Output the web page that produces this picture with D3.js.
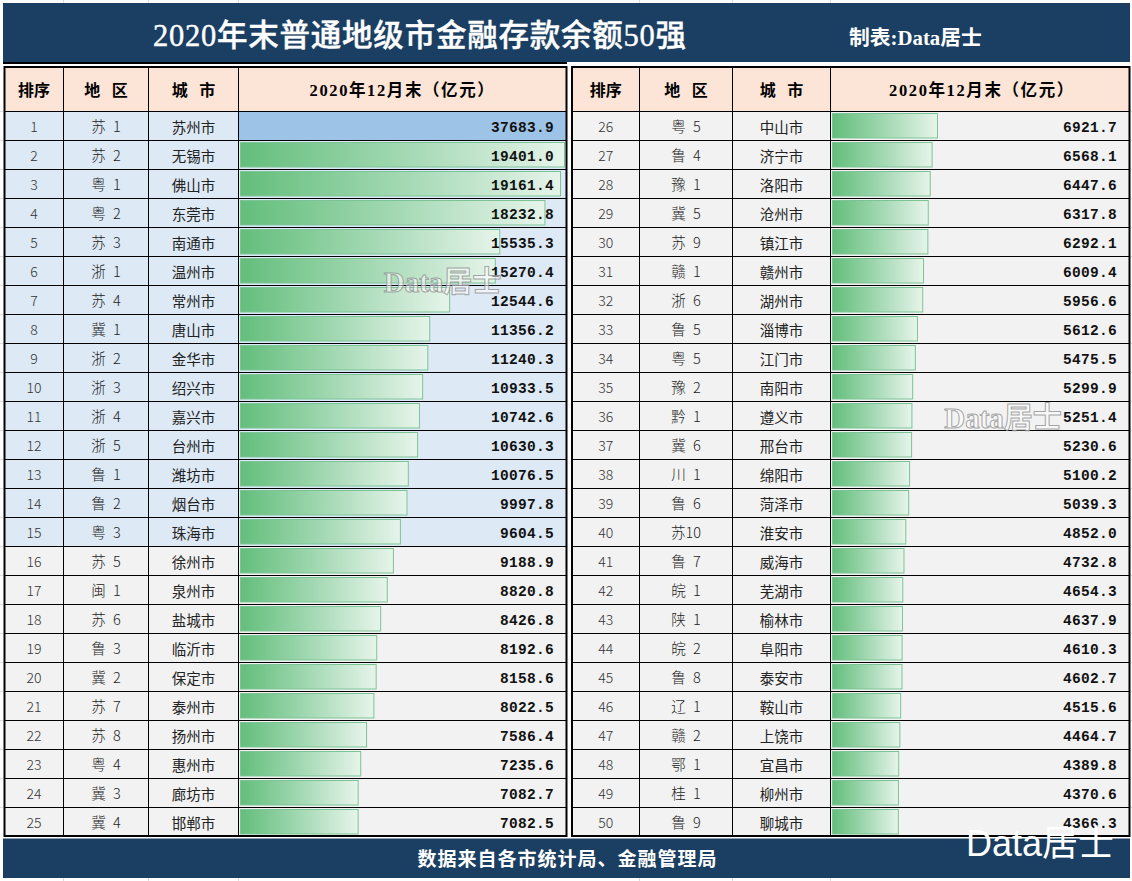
<!DOCTYPE html>
<html><head><meta charset="utf-8">
<script src="https://cdn.jsdelivr.net/npm/d3@7"></script>
<style>
html,body{margin:0;padding:0;background:#fff;overflow:hidden}
svg{display:block}
.serif{font-family:"Liberation Serif","Noto Sans CJK SC",serif}
.cjk{font-family:"Noto Sans CJK SC",sans-serif}
.num{font-family:"Liberation Mono","Noto Sans CJK SC",monospace;font-weight:700}
</style></head><body>
<script>
const titleText = "2020年末普通地级市金融存款余额50强";
const creditText = "制表:Data居士";
const footerText = "数据来自各市统计局、金融管理局";
const watermarkText = "Data居士";
const headers = ["排序","地 区","城 市","2020年12月末（亿元）"];
const ranks = d3.range(1,51);
const regions = ["苏 1","苏 2","粤 1","粤 2","苏 3","浙 1","苏 4","冀 1","浙 2","浙 3","浙 4","浙 5","鲁 1","鲁 2","粤 3","苏 5","闽 1","苏 6","鲁 3","冀 2","苏 7","苏 8","粤 4","冀 3","冀 4",
"粤 5","鲁 4","豫 1","冀 5","苏 9","赣 1","浙 6","鲁 5","粤 5","豫 2","黔 1","冀 6","川 1","鲁 6","苏10","鲁 7","皖 1","陕 1","皖 2","鲁 8","辽 1","赣 2","鄂 1","桂 1","鲁 9"];
const cities = ["苏州市","无锡市","佛山市","东莞市","南通市","温州市","常州市","唐山市","金华市","绍兴市","嘉兴市","台州市","潍坊市","烟台市","珠海市","徐州市","泉州市","盐城市","临沂市","保定市","泰州市","扬州市","惠州市","廊坊市","邯郸市",
"中山市","济宁市","洛阳市","沧州市","镇江市","赣州市","湖州市","淄博市","江门市","南阳市","遵义市","邢台市","绵阳市","菏泽市","淮安市","威海市","芜湖市","榆林市","阜阳市","泰安市","鞍山市","上饶市","宜昌市","柳州市","聊城市"];
const values = [37683.9,19401.0,19161.4,18232.8,15535.3,15270.4,12544.6,11356.2,11240.3,10933.5,10742.6,10630.3,10076.5,9997.8,9604.5,9188.9,8820.8,8426.8,8192.6,8158.6,8022.5,7586.4,7235.6,7082.7,7082.5,
6921.7,6568.1,6447.6,6317.8,6292.1,6009.4,5956.6,5612.6,5475.5,5299.9,5251.4,5230.6,5100.2,5039.3,4852.0,4732.8,4654.3,4637.9,4610.3,4602.7,4515.6,4464.7,4389.8,4370.6,4366.3];

const W=1132,H=881,NAVY="#1b3f62",HEAD="#fce4d6",BLUE="#dde9f5",GREY="#f2f2f2",TOP="#9dc3e6";
const svg=d3.select("body").append("svg").attr("width",W).attr("height",H);
const defs=svg.append("defs");
const grad=defs.append("linearGradient").attr("id","barGrad");
grad.append("stop").attr("offset","0%").attr("stop-color","#63be7b");
grad.append("stop").attr("offset","50%").attr("stop-color","#a2d8b2");
grad.append("stop").attr("offset","100%").attr("stop-color","#e6f4ea");

// faint worksheet gridlines
const grid=svg.append("g").attr("stroke","#dcdcdc").attr("stroke-width",1);
[63.5,148.5,238.5,639.5,732.5,830.5].forEach(x=>{
  grid.append("line").attr("x1",x).attr("x2",x).attr("y1",0).attr("y2",3);
  grid.append("line").attr("x1",x).attr("x2",x).attr("y1",878).attr("y2",881);
});
d3.range(25).forEach(i=>{
  const y=111+29*i+.5;
  grid.append("line").attr("x1",0).attr("x2",3).attr("y1",y).attr("y2",y);
  grid.append("line").attr("x1",1130).attr("x2",1132).attr("y1",y).attr("y2",y);
});

// banners
svg.append("rect").attr("x",3).attr("y",3).attr("width",1127).attr("height",59).attr("fill",NAVY);
svg.append("rect").attr("x",3).attr("y",838.5).attr("width",1127).attr("height",39.5).attr("fill",NAVY);
svg.append("rect").attr("x",3).attr("y",62).attr("width",564).attr("height",2).attr("fill","#000");
svg.append("text").attr("class","serif").attr("x",153).attr("y",46).attr("font-size",30.5).attr("font-weight",500)
  .attr("fill","#fff").attr("stroke","#fff").attr("stroke-width",.4)
  .attr("textLength",533).attr("lengthAdjust","spacing").text(titleText);
svg.append("text").attr("class","serif").attr("x",849).attr("y",45).attr("font-size",20.8).attr("font-weight",700)
  .attr("fill","#fff").text(creditText);
svg.append("text").attr("class","serif").attr("x",567.5).attr("y",866).attr("text-anchor","middle").attr("font-size",19)
  .attr("font-weight",700).attr("letter-spacing",1).attr("fill","#fff").text(footerText);

const rowY=d3.scaleBand().domain(d3.range(25)).range([111,836]);

function panel(cols,barX,barDomain,start,rowFill,headShift){
  const [x0,x1,x2,x3,x4]=cols;
  const g=svg.append("g");
  const idx=d3.range(25).map(i=>i+start);
  const x=d3.scaleLinear().domain(barDomain).range(barX).clamp(true);

  g.append("rect").attr("x",x0).attr("y",67).attr("width",x4-x0).attr("height",44).attr("fill",HEAD);
  g.selectAll(".row").data(idx).join("rect").attr("class","row")
    .attr("x",x0).attr("width",x4-x0).attr("y",d=>rowY(d-start)).attr("height",rowY.bandwidth())
    .attr("fill",rowFill);

  // data bars
  g.selectAll(".bar").data(idx).join("rect").attr("class","bar")
    .each(function(d){
      const s=d3.select(this);
      if(d===0){
        s.attr("x",x3).attr("y",rowY(0)).attr("width",x4-x3).attr("height",rowY.bandwidth()).attr("fill",TOP);
      }else{
        s.attr("x",barX[0]+.5).attr("y",rowY(d-start)+2.5).attr("width",x(values[d])-barX[0]-1)
         .attr("height",rowY.bandwidth()-4.5).attr("fill","url(#barGrad)")
         .attr("stroke","#7cc496").attr("stroke-width",1);
      }
    });

  // rules
  const rules=g.append("g").attr("stroke","#000");
  d3.range(1,25).forEach(i=>rules.append("line").attr("x1",x0).attr("x2",x4)
    .attr("y1",rowY(i)+.5).attr("y2",rowY(i)+.5).attr("stroke-width",1));
  rules.append("line").attr("x1",x0).attr("x2",x4).attr("y1",111.5).attr("y2",111.5).attr("stroke-width",1);
  [x1,x2,x3].forEach(v=>rules.append("line").attr("x1",v).attr("x2",v).attr("y1",67).attr("y2",836).attr("stroke-width",1));
  g.append("rect").attr("x",x0).attr("y",67).attr("width",x4-x0).attr("height",769)
    .attr("fill","none").attr("stroke","#000").attr("stroke-width",2);

  // headers
  const centers=[(x0+x1)/2,(x1+x2)/2,(x2+x3)/2,(x3+x4)/2+headShift];
  headers.forEach((h,i)=>{
    g.append("text").attr("class",i==3?"serif":"cjk").attr("x",centers[i]).attr("y",95.5)
      .attr("text-anchor","middle").attr("font-size",i==3?16.5:16).attr("font-weight",700)
      .attr("letter-spacing",i==3?1.6:0).attr("word-spacing",i==3?0:8)
      .attr("fill","#000").text(h);
  });

  // cells
  const tY=d=>rowY(d-start)+21;
  g.selectAll(".rank").data(idx).join("text").attr("class","cjk")
    .attr("x",centers[0]).attr("y",tY).attr("text-anchor","middle").attr("font-size",14)
    .attr("font-weight",300).attr("fill","#333").text(d=>ranks[d]);
  g.selectAll(".region").data(idx).join("text").attr("class","cjk")
    .attr("x",centers[1]).attr("y",tY).attr("text-anchor","middle").attr("font-size",14.5)
    .attr("font-weight",300).attr("word-spacing",4).attr("fill","#222").text(d=>regions[d]);
  g.selectAll(".city").data(idx).join("text").attr("class","cjk")
    .attr("x",centers[2]).attr("y",d=>tY(d)+.5).attr("text-anchor","middle").attr("font-size",14.5)
    .attr("font-weight",400).attr("fill","#222").text(d=>cities[d]);
  g.selectAll(".val").data(idx).join("text").attr("class","num")
    .attr("x",x4-12.5).attr("y",tY).attr("text-anchor","end").attr("font-size",14.5)
    .attr("letter-spacing",.3).attr("fill","#111").text(d=>values[d].toFixed(1));
}

panel([4.5,63.5,148.5,238.5,566.5],[240,565],[0,19401],0,(d)=>d<15?BLUE:GREY,0);
panel([572,639.5,732.5,830.5,1129.5],[832,938],[0,6921.7],25,()=>GREY,2);

// watermarks
[[442.5,292],[1003,428]].forEach(([x,y])=>{
  svg.append("text").attr("class","serif").attr("x",x).attr("y",y).attr("text-anchor","middle")
    .attr("font-size",29).attr("font-weight",700).attr("fill","#ffffff").attr("fill-opacity",.55)
    .attr("stroke","#8f8f8f").attr("stroke-width",1).attr("stroke-opacity",.8).text(watermarkText);
});
svg.append("text").attr("x",1040).attr("y",856).attr("text-anchor","middle").attr("font-size",36)
  .attr("font-family",'"Liberation Sans","Noto Sans CJK SC",sans-serif').attr("fill","#fff").text(watermarkText);
</script>
</body></html>
